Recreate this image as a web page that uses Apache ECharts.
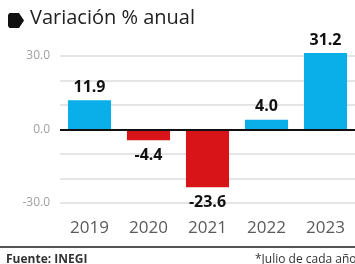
<!DOCTYPE html>
<html><head><meta charset="utf-8">
<script src="https://cdn.jsdelivr.net/npm/echarts@6/dist/echarts.min.js"></script>
<style>html,body{margin:0;padding:0;background:#fff}#c{width:355px;height:264px}</style>
</head><body><div id="c"></div>
<script>
const categories = ['2019','2020','2021','2022','2023'];
const values = [11.9, -4.4, -23.6, 4.0, 31.2];
const yTickLabels = {'30': '30.0', '0': '0.0', '-30': '-30.0'};
const title = 'Variación % anual';
const source = 'Fuente: INEGI';
const note = '*Julio de cada año';

const BLUE = '#0AAEE8', RED = '#D81418';
const chart = echarts.init(document.getElementById('c'), null, {renderer: 'canvas'});
chart.setOption({
  animation: false,
  grid: {left: 60, right: 0, top: 56, bottom: 61},
  xAxis: {
    type: 'category', data: categories,
    axisLine: {show: false, onZero: false}, axisTick: {show: false},
    axisLabel: {color: '#5a5a5a', fontSize: 17, margin: 17, fontFamily: 'Open Sans'}
  },
  yAxis: {
    type: 'value', min: -30, max: 30, interval: 10,
    axisLine: {show: false}, axisTick: {show: false},
    splitLine: {lineStyle: {color: '#dcdcdc', width: 1.5}},
    axisLabel: {
      color: '#a0a0a0', fontSize: 12, margin: 10, fontFamily: 'Open Sans',
      formatter: v => yTickLabels[String(v)] || ''
    }
  },
  series: [{
    type: 'bar', clip: false, barCategoryGap: '27%',
    data: values.map(v => ({
      value: v,
      itemStyle: {color: v >= 0 ? BLUE : RED},
      label: {position: v >= 0 ? 'top' : 'bottom', distance: v >= 0 ? 5 : 7}
    })),
    label: {
      show: true, color: '#111', fontSize: 16, fontWeight: 'bold',
      fontFamily: 'Open Sans', formatter: p => p.value.toFixed(1)
    },
    markLine: {
      silent: true, symbol: 'none', label: {show: false},
      lineStyle: {color: '#111', width: 2, type: 'solid'},
      data: [{yAxis: 0}]
    }
  }],
  graphic: [
    {type: 'polygon', shape: {points: [[8,15],[9.5,13],[19,13],[24,20.5],[19,28],[9.5,28],[8,26]]}, style: {fill: '#111'}},
    {type: 'text', left: 30, top: 8, style: {text: title, fontSize: 20, fill: '#222', fontFamily: 'Open Sans'}},
    {type: 'rect', shape: {x: 0, y: 246, width: 355, height: 2}, style: {fill: '#555'}},
    {type: 'text', left: 6, top: 254, style: {text: source, fontSize: 12, fontWeight: 'bold', fill: '#333', fontFamily: 'Open Sans'}},
    {type: 'text', left: 255, top: 254, style: {text: note, fontSize: 12, fill: '#333', fontFamily: 'Open Sans'}}
  ]
});
</script></body></html>
